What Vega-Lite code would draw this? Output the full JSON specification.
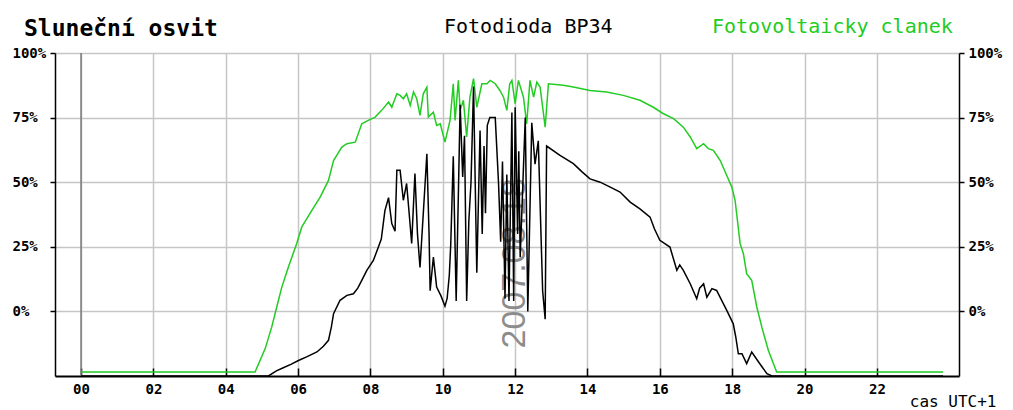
{
  "$schema": "https://vega.github.io/schema/vega-lite/v6.json",
  "width": 904,
  "height": 323,
  "autosize": "none",
  "padding": {"left": 55, "top": 53, "right": 54, "bottom": 34},
  "background": "white",
  "config": {"view": {"stroke": null}, "font": "DejaVu Sans Mono"},
  "title": {
    "text": "Sluneční osvit",
    "anchor": "start",
    "frame": "group",
    "dx": -31,
    "baseline": "alphabetic",
    "offset": -42,
    "font": "DejaVu Sans Mono",
    "fontSize": 23,
    "fontWeight": "bold",
    "color": "#000000"
  },
  "datasets": {
    "mereni": [
      {"cas": 0, "hodnota": -23.5, "cidlo": "Fotovoltaicky clanek"},
      {"cas": 4.81, "hodnota": -23.5, "cidlo": "Fotovoltaicky clanek"},
      {"cas": 5.09, "hodnota": -14.4, "cidlo": "Fotovoltaicky clanek"},
      {"cas": 5.27, "hodnota": -6.1, "cidlo": "Fotovoltaicky clanek"},
      {"cas": 5.41, "hodnota": 1.7, "cidlo": "Fotovoltaicky clanek"},
      {"cas": 5.55, "hodnota": 9.4, "cidlo": "Fotovoltaicky clanek"},
      {"cas": 5.73, "hodnota": 17.1, "cidlo": "Fotovoltaicky clanek"},
      {"cas": 5.96, "hodnota": 26.2, "cidlo": "Fotovoltaicky clanek"},
      {"cas": 6.1, "hodnota": 32.6, "cidlo": "Fotovoltaicky clanek"},
      {"cas": 6.38, "hodnota": 39.1, "cidlo": "Fotovoltaicky clanek"},
      {"cas": 6.61, "hodnota": 44.2, "cidlo": "Fotovoltaicky clanek"},
      {"cas": 6.84, "hodnota": 50.7, "cidlo": "Fotovoltaicky clanek"},
      {"cas": 6.98, "hodnota": 58.4, "cidlo": "Fotovoltaicky clanek"},
      {"cas": 7.21, "hodnota": 63.6, "cidlo": "Fotovoltaicky clanek"},
      {"cas": 7.35, "hodnota": 64.9, "cidlo": "Fotovoltaicky clanek"},
      {"cas": 7.58, "hodnota": 65.5, "cidlo": "Fotovoltaicky clanek"},
      {"cas": 7.76, "hodnota": 72.6, "cidlo": "Fotovoltaicky clanek"},
      {"cas": 7.94, "hodnota": 73.9, "cidlo": "Fotovoltaicky clanek"},
      {"cas": 8.13, "hodnota": 75.2, "cidlo": "Fotovoltaicky clanek"},
      {"cas": 8.31, "hodnota": 77.8, "cidlo": "Fotovoltaicky clanek"},
      {"cas": 8.5, "hodnota": 81, "cidlo": "Fotovoltaicky clanek"},
      {"cas": 8.59, "hodnota": 79, "cidlo": "Fotovoltaicky clanek"},
      {"cas": 8.73, "hodnota": 84.2, "cidlo": "Fotovoltaicky clanek"},
      {"cas": 8.82, "hodnota": 83.6, "cidlo": "Fotovoltaicky clanek"},
      {"cas": 8.91, "hodnota": 82.3, "cidlo": "Fotovoltaicky clanek"},
      {"cas": 9.0, "hodnota": 84.2, "cidlo": "Fotovoltaicky clanek"},
      {"cas": 9.1, "hodnota": 79.7, "cidlo": "Fotovoltaicky clanek"},
      {"cas": 9.19, "hodnota": 84.9, "cidlo": "Fotovoltaicky clanek"},
      {"cas": 9.28, "hodnota": 82.3, "cidlo": "Fotovoltaicky clanek"},
      {"cas": 9.37, "hodnota": 75.9, "cidlo": "Fotovoltaicky clanek"},
      {"cas": 9.46, "hodnota": 84.2, "cidlo": "Fotovoltaicky clanek"},
      {"cas": 9.56, "hodnota": 86.8, "cidlo": "Fotovoltaicky clanek"},
      {"cas": 9.6, "hodnota": 75.2, "cidlo": "Fotovoltaicky clanek"},
      {"cas": 9.74, "hodnota": 77.1, "cidlo": "Fotovoltaicky clanek"},
      {"cas": 9.83, "hodnota": 72, "cidlo": "Fotovoltaicky clanek"},
      {"cas": 9.93, "hodnota": 72.6, "cidlo": "Fotovoltaicky clanek"},
      {"cas": 10.06, "hodnota": 65.5, "cidlo": "Fotovoltaicky clanek"},
      {"cas": 10.2, "hodnota": 73.9, "cidlo": "Fotovoltaicky clanek"},
      {"cas": 10.29, "hodnota": 88.1, "cidlo": "Fotovoltaicky clanek"},
      {"cas": 10.34, "hodnota": 73.9, "cidlo": "Fotovoltaicky clanek"},
      {"cas": 10.43, "hodnota": 89.4, "cidlo": "Fotovoltaicky clanek"},
      {"cas": 10.48, "hodnota": 77.8, "cidlo": "Fotovoltaicky clanek"},
      {"cas": 10.57, "hodnota": 81.7, "cidlo": "Fotovoltaicky clanek"},
      {"cas": 10.66, "hodnota": 67.5, "cidlo": "Fotovoltaicky clanek"},
      {"cas": 10.75, "hodnota": 82.9, "cidlo": "Fotovoltaicky clanek"},
      {"cas": 10.85, "hodnota": 90.1, "cidlo": "Fotovoltaicky clanek"},
      {"cas": 10.94, "hodnota": 79, "cidlo": "Fotovoltaicky clanek"},
      {"cas": 11.08, "hodnota": 88.1, "cidlo": "Fotovoltaicky clanek"},
      {"cas": 11.22, "hodnota": 88.1, "cidlo": "Fotovoltaicky clanek"},
      {"cas": 11.31, "hodnota": 89.4, "cidlo": "Fotovoltaicky clanek"},
      {"cas": 11.45, "hodnota": 88.1, "cidlo": "Fotovoltaicky clanek"},
      {"cas": 11.58, "hodnota": 85.5, "cidlo": "Fotovoltaicky clanek"},
      {"cas": 11.68, "hodnota": 82.9, "cidlo": "Fotovoltaicky clanek"},
      {"cas": 11.77, "hodnota": 77.8, "cidlo": "Fotovoltaicky clanek"},
      {"cas": 11.85, "hodnota": 88, "cidlo": "Fotovoltaicky clanek"},
      {"cas": 11.91, "hodnota": 89.4, "cidlo": "Fotovoltaicky clanek"},
      {"cas": 12.0, "hodnota": 80.4, "cidlo": "Fotovoltaicky clanek"},
      {"cas": 12.09, "hodnota": 89.4, "cidlo": "Fotovoltaicky clanek"},
      {"cas": 12.23, "hodnota": 82.9, "cidlo": "Fotovoltaicky clanek"},
      {"cas": 12.32, "hodnota": 72.6, "cidlo": "Fotovoltaicky clanek"},
      {"cas": 12.41, "hodnota": 89.4, "cidlo": "Fotovoltaicky clanek"},
      {"cas": 12.51, "hodnota": 82.9, "cidlo": "Fotovoltaicky clanek"},
      {"cas": 12.6, "hodnota": 88.7, "cidlo": "Fotovoltaicky clanek"},
      {"cas": 12.69, "hodnota": 86.8, "cidlo": "Fotovoltaicky clanek"},
      {"cas": 12.83, "hodnota": 71.3, "cidlo": "Fotovoltaicky clanek"},
      {"cas": 12.92, "hodnota": 88.1, "cidlo": "Fotovoltaicky clanek"},
      {"cas": 13.33, "hodnota": 87.5, "cidlo": "Fotovoltaicky clanek"},
      {"cas": 13.61, "hodnota": 86.8, "cidlo": "Fotovoltaicky clanek"},
      {"cas": 14.07, "hodnota": 85.5, "cidlo": "Fotovoltaicky clanek"},
      {"cas": 14.53, "hodnota": 84.9, "cidlo": "Fotovoltaicky clanek"},
      {"cas": 14.99, "hodnota": 83.6, "cidlo": "Fotovoltaicky clanek"},
      {"cas": 15.45, "hodnota": 81.7, "cidlo": "Fotovoltaicky clanek"},
      {"cas": 15.82, "hodnota": 79, "cidlo": "Fotovoltaicky clanek"},
      {"cas": 16.1, "hodnota": 76.5, "cidlo": "Fotovoltaicky clanek"},
      {"cas": 16.38, "hodnota": 74.6, "cidlo": "Fotovoltaicky clanek"},
      {"cas": 16.65, "hodnota": 71.3, "cidlo": "Fotovoltaicky clanek"},
      {"cas": 16.84, "hodnota": 67.5, "cidlo": "Fotovoltaicky clanek"},
      {"cas": 17.02, "hodnota": 63, "cidlo": "Fotovoltaicky clanek"},
      {"cas": 17.21, "hodnota": 64.9, "cidlo": "Fotovoltaicky clanek"},
      {"cas": 17.34, "hodnota": 63, "cidlo": "Fotovoltaicky clanek"},
      {"cas": 17.48, "hodnota": 62.3, "cidlo": "Fotovoltaicky clanek"},
      {"cas": 17.67, "hodnota": 58.4, "cidlo": "Fotovoltaicky clanek"},
      {"cas": 17.85, "hodnota": 52.6, "cidlo": "Fotovoltaicky clanek"},
      {"cas": 17.99, "hodnota": 48.1, "cidlo": "Fotovoltaicky clanek"},
      {"cas": 18.08, "hodnota": 43, "cidlo": "Fotovoltaicky clanek"},
      {"cas": 18.22, "hodnota": 26.2, "cidlo": "Fotovoltaicky clanek"},
      {"cas": 18.31, "hodnota": 22.3, "cidlo": "Fotovoltaicky clanek"},
      {"cas": 18.4, "hodnota": 14.6, "cidlo": "Fotovoltaicky clanek"},
      {"cas": 18.54, "hodnota": 12, "cidlo": "Fotovoltaicky clanek"},
      {"cas": 18.68, "hodnota": 1.7, "cidlo": "Fotovoltaicky clanek"},
      {"cas": 18.82, "hodnota": -6.1, "cidlo": "Fotovoltaicky clanek"},
      {"cas": 19.0, "hodnota": -15.1, "cidlo": "Fotovoltaicky clanek"},
      {"cas": 19.23, "hodnota": -23.5, "cidlo": "Fotovoltaicky clanek"},
      {"cas": 23.83, "hodnota": -23.5, "cidlo": "Fotovoltaicky clanek"},

      {"cas": 0, "hodnota": -25, "cidlo": "Fotodioda BP34"},
      {"cas": 5.18, "hodnota": -25, "cidlo": "Fotodioda BP34"},
      {"cas": 5.4, "hodnota": -23, "cidlo": "Fotodioda BP34"},
      {"cas": 5.59, "hodnota": -21.8, "cidlo": "Fotodioda BP34"},
      {"cas": 5.8, "hodnota": -20.5, "cidlo": "Fotodioda BP34"},
      {"cas": 6.01, "hodnota": -19, "cidlo": "Fotodioda BP34"},
      {"cas": 6.25, "hodnota": -17.5, "cidlo": "Fotodioda BP34"},
      {"cas": 6.52, "hodnota": -15.7, "cidlo": "Fotodioda BP34"},
      {"cas": 6.7, "hodnota": -13.5, "cidlo": "Fotodioda BP34"},
      {"cas": 6.84, "hodnota": -11.2, "cidlo": "Fotodioda BP34"},
      {"cas": 6.92, "hodnota": -6, "cidlo": "Fotodioda BP34"},
      {"cas": 6.98, "hodnota": -0.9, "cidlo": "Fotodioda BP34"},
      {"cas": 7.16, "hodnota": 4.3, "cidlo": "Fotodioda BP34"},
      {"cas": 7.35, "hodnota": 6.2, "cidlo": "Fotodioda BP34"},
      {"cas": 7.53, "hodnota": 6.8, "cidlo": "Fotodioda BP34"},
      {"cas": 7.65, "hodnota": 9, "cidlo": "Fotodioda BP34"},
      {"cas": 7.76, "hodnota": 12, "cidlo": "Fotodioda BP34"},
      {"cas": 7.9, "hodnota": 15.9, "cidlo": "Fotodioda BP34"},
      {"cas": 8.08, "hodnota": 19.7, "cidlo": "Fotodioda BP34"},
      {"cas": 8.22, "hodnota": 24.9, "cidlo": "Fotodioda BP34"},
      {"cas": 8.3, "hodnota": 28, "cidlo": "Fotodioda BP34"},
      {"cas": 8.4, "hodnota": 39, "cidlo": "Fotodioda BP34"},
      {"cas": 8.5, "hodnota": 44, "cidlo": "Fotodioda BP34"},
      {"cas": 8.59, "hodnota": 34, "cidlo": "Fotodioda BP34"},
      {"cas": 8.68, "hodnota": 31, "cidlo": "Fotodioda BP34"},
      {"cas": 8.73, "hodnota": 54.6, "cidlo": "Fotodioda BP34"},
      {"cas": 8.82, "hodnota": 54.6, "cidlo": "Fotodioda BP34"},
      {"cas": 8.91, "hodnota": 43, "cidlo": "Fotodioda BP34"},
      {"cas": 9.0, "hodnota": 49.5, "cidlo": "Fotodioda BP34"},
      {"cas": 9.07, "hodnota": 38, "cidlo": "Fotodioda BP34"},
      {"cas": 9.14, "hodnota": 26.3, "cidlo": "Fotodioda BP34"},
      {"cas": 9.23, "hodnota": 53.4, "cidlo": "Fotodioda BP34"},
      {"cas": 9.3, "hodnota": 30, "cidlo": "Fotodioda BP34"},
      {"cas": 9.37, "hodnota": 17, "cidlo": "Fotodioda BP34"},
      {"cas": 9.47, "hodnota": 40, "cidlo": "Fotodioda BP34"},
      {"cas": 9.56, "hodnota": 61, "cidlo": "Fotodioda BP34"},
      {"cas": 9.62, "hodnota": 30, "cidlo": "Fotodioda BP34"},
      {"cas": 9.65, "hodnota": 8, "cidlo": "Fotodioda BP34"},
      {"cas": 9.74, "hodnota": 21, "cidlo": "Fotodioda BP34"},
      {"cas": 9.83, "hodnota": 9.4, "cidlo": "Fotodioda BP34"},
      {"cas": 9.95, "hodnota": 6, "cidlo": "Fotodioda BP34"},
      {"cas": 10.06, "hodnota": 2, "cidlo": "Fotodioda BP34"},
      {"cas": 10.12, "hodnota": 5, "cidlo": "Fotodioda BP34"},
      {"cas": 10.18, "hodnota": 14, "cidlo": "Fotodioda BP34"},
      {"cas": 10.22, "hodnota": 26, "cidlo": "Fotodioda BP34"},
      {"cas": 10.29, "hodnota": 60, "cidlo": "Fotodioda BP34"},
      {"cas": 10.37, "hodnota": 4, "cidlo": "Fotodioda BP34"},
      {"cas": 10.43, "hodnota": 45, "cidlo": "Fotodioda BP34"},
      {"cas": 10.48, "hodnota": 80, "cidlo": "Fotodioda BP34"},
      {"cas": 10.55, "hodnota": 52, "cidlo": "Fotodioda BP34"},
      {"cas": 10.6, "hodnota": 68, "cidlo": "Fotodioda BP34"},
      {"cas": 10.66, "hodnota": 4, "cidlo": "Fotodioda BP34"},
      {"cas": 10.72, "hodnota": 35, "cidlo": "Fotodioda BP34"},
      {"cas": 10.78, "hodnota": 50, "cidlo": "Fotodioda BP34"},
      {"cas": 10.85, "hodnota": 87, "cidlo": "Fotodioda BP34"},
      {"cas": 10.94, "hodnota": 15, "cidlo": "Fotodioda BP34"},
      {"cas": 11.03, "hodnota": 70, "cidlo": "Fotodioda BP34"},
      {"cas": 11.09, "hodnota": 30, "cidlo": "Fotodioda BP34"},
      {"cas": 11.14, "hodnota": 64, "cidlo": "Fotodioda BP34"},
      {"cas": 11.18, "hodnota": 38, "cidlo": "Fotodioda BP34"},
      {"cas": 11.23, "hodnota": 72, "cidlo": "Fotodioda BP34"},
      {"cas": 11.3, "hodnota": 75, "cidlo": "Fotodioda BP34"},
      {"cas": 11.45, "hodnota": 75, "cidlo": "Fotodioda BP34"},
      {"cas": 11.54, "hodnota": 50, "cidlo": "Fotodioda BP34"},
      {"cas": 11.6, "hodnota": 27, "cidlo": "Fotodioda BP34"},
      {"cas": 11.65, "hodnota": 58, "cidlo": "Fotodioda BP34"},
      {"cas": 11.72, "hodnota": 5, "cidlo": "Fotodioda BP34"},
      {"cas": 11.77, "hodnota": 53, "cidlo": "Fotodioda BP34"},
      {"cas": 11.83, "hodnota": 4, "cidlo": "Fotodioda BP34"},
      {"cas": 11.91, "hodnota": 77, "cidlo": "Fotodioda BP34"},
      {"cas": 11.96, "hodnota": 4, "cidlo": "Fotodioda BP34"},
      {"cas": 12.0, "hodnota": 79, "cidlo": "Fotodioda BP34"},
      {"cas": 12.07, "hodnota": 30, "cidlo": "Fotodioda BP34"},
      {"cas": 12.1, "hodnota": 62, "cidlo": "Fotodioda BP34"},
      {"cas": 12.14, "hodnota": 21, "cidlo": "Fotodioda BP34"},
      {"cas": 12.28, "hodnota": 75, "cidlo": "Fotodioda BP34"},
      {"cas": 12.35, "hodnota": 0, "cidlo": "Fotodioda BP34"},
      {"cas": 12.46, "hodnota": 73, "cidlo": "Fotodioda BP34"},
      {"cas": 12.55, "hodnota": 57, "cidlo": "Fotodioda BP34"},
      {"cas": 12.64, "hodnota": 66, "cidlo": "Fotodioda BP34"},
      {"cas": 12.76, "hodnota": 8, "cidlo": "Fotodioda BP34"},
      {"cas": 12.83, "hodnota": -3, "cidlo": "Fotodioda BP34"},
      {"cas": 12.87, "hodnota": 64, "cidlo": "Fotodioda BP34"},
      {"cas": 13.24, "hodnota": 60.4, "cidlo": "Fotodioda BP34"},
      {"cas": 13.61, "hodnota": 57.2, "cidlo": "Fotodioda BP34"},
      {"cas": 13.85, "hodnota": 54, "cidlo": "Fotodioda BP34"},
      {"cas": 14.07, "hodnota": 51.3, "cidlo": "Fotodioda BP34"},
      {"cas": 14.35, "hodnota": 50, "cidlo": "Fotodioda BP34"},
      {"cas": 14.63, "hodnota": 48.1, "cidlo": "Fotodioda BP34"},
      {"cas": 14.9, "hodnota": 46.2, "cidlo": "Fotodioda BP34"},
      {"cas": 15.18, "hodnota": 42.3, "cidlo": "Fotodioda BP34"},
      {"cas": 15.45, "hodnota": 39.7, "cidlo": "Fotodioda BP34"},
      {"cas": 15.73, "hodnota": 36.5, "cidlo": "Fotodioda BP34"},
      {"cas": 15.85, "hodnota": 32, "cidlo": "Fotodioda BP34"},
      {"cas": 16.0, "hodnota": 27.5, "cidlo": "Fotodioda BP34"},
      {"cas": 16.28, "hodnota": 24.9, "cidlo": "Fotodioda BP34"},
      {"cas": 16.47, "hodnota": 15.9, "cidlo": "Fotodioda BP34"},
      {"cas": 16.55, "hodnota": 18, "cidlo": "Fotodioda BP34"},
      {"cas": 16.65, "hodnota": 15.9, "cidlo": "Fotodioda BP34"},
      {"cas": 16.84, "hodnota": 10.7, "cidlo": "Fotodioda BP34"},
      {"cas": 17.02, "hodnota": 4.9, "cidlo": "Fotodioda BP34"},
      {"cas": 17.1, "hodnota": 9, "cidlo": "Fotodioda BP34"},
      {"cas": 17.21, "hodnota": 10.7, "cidlo": "Fotodioda BP34"},
      {"cas": 17.3, "hodnota": 5.5, "cidlo": "Fotodioda BP34"},
      {"cas": 17.44, "hodnota": 8.8, "cidlo": "Fotodioda BP34"},
      {"cas": 17.57, "hodnota": 8.1, "cidlo": "Fotodioda BP34"},
      {"cas": 17.72, "hodnota": 4, "cidlo": "Fotodioda BP34"},
      {"cas": 17.85, "hodnota": 0.4, "cidlo": "Fotodioda BP34"},
      {"cas": 18.03, "hodnota": -4.8, "cidlo": "Fotodioda BP34"},
      {"cas": 18.1, "hodnota": -10, "cidlo": "Fotodioda BP34"},
      {"cas": 18.17, "hodnota": -16.4, "cidlo": "Fotodioda BP34"},
      {"cas": 18.27, "hodnota": -16.4, "cidlo": "Fotodioda BP34"},
      {"cas": 18.4, "hodnota": -20.2, "cidlo": "Fotodioda BP34"},
      {"cas": 18.54, "hodnota": -15.7, "cidlo": "Fotodioda BP34"},
      {"cas": 18.73, "hodnota": -19.6, "cidlo": "Fotodioda BP34"},
      {"cas": 18.96, "hodnota": -24.1, "cidlo": "Fotodioda BP34"},
      {"cas": 19.1, "hodnota": -25, "cidlo": "Fotodioda BP34"},
      {"cas": 23.83, "hodnota": -25, "cidlo": "Fotodioda BP34"}
    ],
    "pulnoc": [{"cas": 0}],
    "datum": [{"cas": 12, "hodnota": 18.6, "popis": "2007.08.18"}]
  },
  "encoding": {
    "x": {
      "field": "cas",
      "type": "quantitative",
      "scale": {"domain": [-0.72, 24.27], "nice": false, "zero": false},
      "axis": {
        "values": [0, 2, 4, 6, 8, 10, 12, 14, 16, 18, 20, 22],
        "labelExpr": "(datum.value < 10 ? '0' : '') + datum.value",
        "grid": true,
        "gridColor": "#c6c6c6",
        "gridWidth": 1.5,
        "domainColor": "#000000",
        "domainWidth": 2,
        "tickColor": "#000000",
        "tickWidth": 1.5,
        "tickSize": -8,
        "labelPadding": 14,
        "labelFont": "DejaVu Sans Mono",
        "labelFontSize": 14,
        "labelFontWeight": "bold",
        "labelColor": "#000000",
        "title": "cas UTC+1",
        "titleFont": "DejaVu Sans Mono",
        "titleFontSize": 16,
        "titleFontWeight": "normal",
        "titleColor": "#000000",
        "titleAlign": "right",
        "titleBaseline": "alphabetic",
        "titleX": 941,
        "titleY": 30
      }
    }
  },
  "layer": [
    {
      "data": {"name": "pulnoc"},
      "mark": {"type": "rule", "color": "#7a7a7a", "strokeWidth": 1.5}
    },
    {
      "data": {"name": "datum"},
      "mark": {
        "type": "text",
        "angle": 270,
        "align": "center",
        "baseline": "middle",
        "font": "Liberation Sans",
        "fontSize": 34,
        "color": "#8c8c8c"
      },
      "encoding": {
        "y": {
          "field": "hodnota",
          "type": "quantitative",
          "scale": {"domain": [-25, 100], "nice": false, "zero": false},
          "axis": {
            "orient": "right",
            "values": [0, 25, 50, 75, 100],
            "labelExpr": "datum.value + '%'",
            "grid": false,
            "domainColor": "#000000",
            "domainWidth": 1.5,
            "tickColor": "#000000",
            "tickWidth": 1.5,
            "tickSize": 5,
            "labelPadding": 4,
            "labelAlign": "left",
            "labelFont": "DejaVu Sans Mono",
            "labelFontSize": 14,
            "labelFontWeight": "bold",
            "labelColor": "#000000",
            "title": null
          }
        },
        "text": {"field": "popis"}
      }
    },
    {
      "data": {"name": "mereni"},
      "mark": {"type": "line", "strokeWidth": 1.5, "interpolate": "linear"},
      "encoding": {
        "y": {
          "field": "hodnota",
          "type": "quantitative",
          "scale": {"domain": [-25, 100], "nice": false, "zero": false},
          "axis": {
            "orient": "left",
            "values": [0, 25, 50, 75, 100],
            "labelExpr": "datum.value + '%'",
            "grid": true,
            "gridColor": "#c6c6c6",
            "gridWidth": 1.5,
            "domainColor": "#000000",
            "domainWidth": 1.5,
            "tickColor": "#000000",
            "tickWidth": 1.5,
            "tickSize": 5,
            "labelPadding": 38,
            "labelAlign": "left",
            "labelFont": "DejaVu Sans Mono",
            "labelFontSize": 14,
            "labelFontWeight": "bold",
            "labelColor": "#000000",
            "title": null
          }
        },
        "color": {
          "field": "cidlo",
          "type": "nominal",
          "scale": {
            "domain": ["Fotodioda BP34", "Fotovoltaicky clanek"],
            "range": ["#000000", "#22cc22"]
          },
          "legend": {
            "orient": "none",
            "direction": "horizontal",
            "legendX": 369,
            "legendY": -36,
            "title": null,
            "symbolType": "circle",
            "symbolSize": 0,
            "symbolStrokeWidth": 0,
            "symbolOpacity": 0,
            "labelOffset": 0,
            "columnPadding": 79,
            "labelFont": "DejaVu Sans Mono",
            "labelFontSize": 20,
            "labelLimit": 400,
            "labelColor": {"expr": "datum.label == 'Fotovoltaicky clanek' ? '#22cc22' : '#000000'"}
          }
        },
        "order": {"field": "cidlo", "sort": "descending"}
      }
    }
  ],
  "resolve": {"axis": {"y": "independent"}}
}
